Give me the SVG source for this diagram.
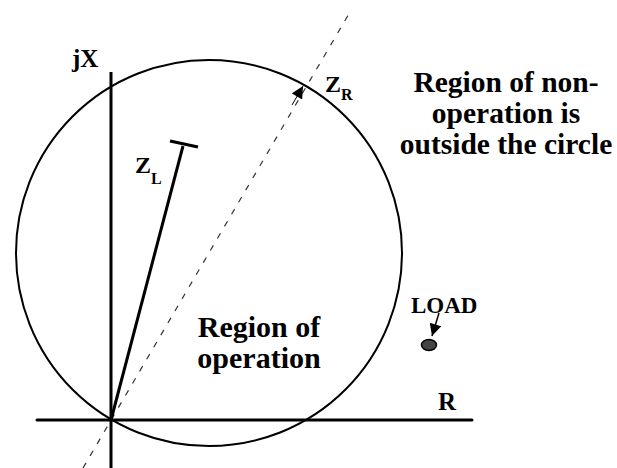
<svg xmlns="http://www.w3.org/2000/svg" width="617" height="468" viewBox="0 0 617 468">
<style>
.t{font-family:"Liberation Serif","Times New Roman",serif;font-weight:700;fill:#000}
.axis{stroke:#000;stroke-width:3;fill:none}
.thin{stroke:#000;stroke-width:2;fill:none}
.dash{stroke:#333;stroke-width:1.2;stroke-dasharray:6 8;fill:none}
</style>
<defs>
<marker id="ah" viewBox="0 0 10 10" refX="10" refY="5" markerWidth="14" markerHeight="12" markerUnits="userSpaceOnUse" orient="auto">
<path d="M0,0 L10,5 L0,10 z" fill="#000"/>
</marker>
</defs>
<rect width="617" height="468" fill="#fff"/>
<g id="circle"><circle cx="209" cy="253" r="193" class="thin"/></g>
<g id="axes">
<line x1="111" y1="72" x2="111" y2="468" class="axis"/>
<line x1="37" y1="420" x2="472" y2="420" class="axis" stroke-linecap="round"/>
<text class="t" x="72" y="67" font-size="25">jX</text>
<text class="t" x="438" y="410" font-size="25">R</text>
</g>
<g id="connectors">
<line x1="83" y1="468" x2="350" y2="12" class="dash"/>
<line x1="292" y1="105" x2="303" y2="86" stroke="#000" stroke-width="1" marker-end="url(#ah)"/>
<line x1="111" y1="420" x2="183" y2="146" class="axis"/>
<line x1="170" y1="141" x2="198" y2="147" class="axis"/>
<line x1="439" y1="313" x2="432" y2="336" stroke="#000" stroke-width="1.5" marker-end="url(#ah)"/>
</g>
<g id="zl"><text class="t" x="135" y="173" font-size="24">Z<tspan font-size="16" dy="11">L</tspan></text></g>
<g id="zr"><text class="t" x="325" y="92" font-size="24">Z<tspan font-size="16" dy="8">R</tspan></text></g>
<g id="nonop" font-size="29.5">
<text class="t" x="506" y="92" text-anchor="middle">Region of non-</text>
<text class="t" x="506" y="123" text-anchor="middle">operation is</text>
<text class="t" x="506" y="154" text-anchor="middle">outside the circle</text>
</g>
<g id="op" font-size="30">
<text class="t" x="259" y="337" text-anchor="middle">Region of</text>
<text class="t" x="259" y="368" text-anchor="middle">operation</text>
</g>
<g id="load">
<text class="t" x="411" y="313" font-size="23">LOAD</text>
<ellipse cx="429" cy="345" rx="7.5" ry="5.5" fill="#444" stroke="#000" stroke-width="1.5"/>
</g>
</svg>
